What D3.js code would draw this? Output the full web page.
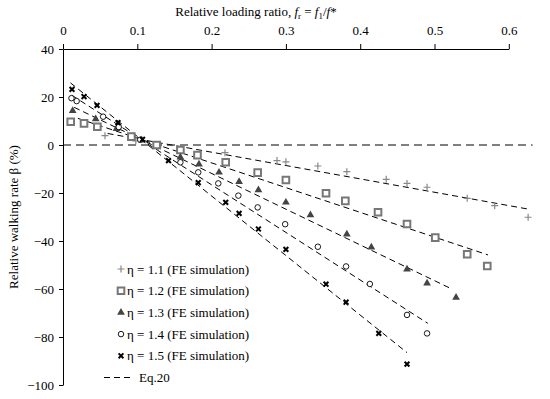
<!DOCTYPE html>
<html>
<head>
<meta charset="utf-8">
<script src="https://cdn.jsdelivr.net/npm/d3@7"></script>
<style>
  body { margin: 0; background: #fff; }
  text { font-family: "Liberation Serif", "Times New Roman", serif; }
</style>
</head>
<body>
<div id="chart"></div>
<script>
// FE simulation points, [fr, beta %]
var eta11 = [[0.0565, 3.9], [0.098, 1.7], [0.128, -0.8], [0.218, -3.2], [0.288, -6.5], [0.300, -7.0],
  [0.343, -8.75], [0.382, -11.1], [0.435, -14.3], [0.463, -16], [0.490, -17.6], [0.544, -22.2],
  [0.581, -25.3], [0.626, -30.1]];
var eta12 = [[0.0104, 9.7], [0.0283, 9.0], [0.0462, 7.6], [0.092, 3.5], [0.126, 0], [0.158, -2.1],
  [0.181, -4.2], [0.219, -7.2], [0.262, -11.5], [0.300, -14.6], [0.354, -20.1], [0.380, -23.3],
  [0.424, -28], [0.463, -32.9], [0.501, -38.6], [0.544, -45.5], [0.571, -50.4]];
var eta13 = [[0.013, 14.3], [0.044, 10.8], [0.072, 6.8], [0.106, 2], [0.158, -5.1], [0.183, -8.0],
  [0.210, -11.4], [0.237, -15.3], [0.263, -18.75], [0.300, -23.9], [0.333, -29.2], [0.382, -37.2],
  [0.415, -42.6], [0.463, -51.8], [0.490, -57.6], [0.529, -63.5]];
var eta14 = [[0.0114, 19.5], [0.0184, 18.3], [0.054, 11.8], [0.075, 7.5], [0.104, 2.2], [0.158, -7.2],
  [0.182, -11.4], [0.209, -16], [0.236, -21.1], [0.262, -26], [0.299, -33], [0.343, -42.4],
  [0.381, -50.6], [0.413, -57.9], [0.463, -70.8], [0.490, -78.5]];
var eta15 = [[0.0121, 23.2], [0.0283, 20.2], [0.0458, 16.5], [0.074, 9.3], [0.107, 2.3], [0.142, -6.5],
  [0.182, -15.7], [0.219, -23.9], [0.237, -28.5], [0.263, -35], [0.300, -43.5], [0.354, -58],
  [0.381, -65.5], [0.425, -78.5], [0.463, -91.3]];

// Eq.20 lines, start and end [fr, beta]
var eq11 = [[0.06, 4.8], [0.626, -26.7]];
var eq12 = [[0.02, 11.1], [0.572, -45.8]];
var eq13 = [[0.015, 15.7], [0.524, -60.1]];
var eq14 = [[0.012, 20.7], [0.491, -74.3]];
var eq15 = [[0.01, 25.9], [0.463, -86.5]];

var xTicks = [0, 0.1, 0.2, 0.3, 0.4, 0.5, 0.6];
var yTicks = [40, 20, 0, -20, -40, -60, -80, -100];
var legendLabels = ["\u03b7 = 1.1 (FE simulation)", "\u03b7 = 1.2 (FE simulation)", "\u03b7 = 1.3 (FE simulation)",
  "\u03b7 = 1.4 (FE simulation)", "\u03b7 = 1.5 (FE simulation)", "Eq.20"];

var width = 550, height = 399;

var svg = d3.select("#chart")
  .append("svg")
  .attr("width", width)
  .attr("height", height);

var x = d3.scaleLinear().domain([0, 0.6]).range([63, 508.8]);
var y = d3.scaleLinear().domain([-100, 40]).range([385, 49]);

// axes
var xAxis = svg.append("g")
  .attr("transform", "translate(0," + y(40) + ")")
  .call(d3.axisTop(x).tickValues(xTicks).tickSize(5).tickSizeOuter(0)
    .tickFormat(function(d) { return d === 0 ? "0" : d.toFixed(1); }));
var yAxis = svg.append("g")
  .attr("transform", "translate(" + x(0) + ",0)")
  .call(d3.axisLeft(y).tickValues(yTicks).tickSize(4).tickSizeOuter(0));

[xAxis, yAxis].forEach(function(a) {
  a.selectAll("path, line").attr("stroke", "#000").attr("stroke-width", 1);
  a.selectAll("text").attr("font-size", 13).attr("fill", "#000")
    .attr("font-family", "Liberation Serif");
});
xAxis.selectAll("text").attr("dy", "-0.45em");
yAxis.selectAll("text").attr("dx", "-2");

// zero line
svg.append("line")
  .attr("x1", x(0)).attr("x2", x(0.632))
  .attr("y1", y(0)).attr("y2", y(0))
  .attr("stroke", "#000").attr("stroke-width", 1)
  .attr("stroke-dasharray", "8,5");

// titles
var title = svg.append("text")
  .attr("x", 256).attr("y", 16)
  .attr("text-anchor", "middle")
  .attr("font-size", 13);
title.append("tspan").text("Relative  loading ratio, ");
title.append("tspan").attr("font-style", "italic").text("f");
title.append("tspan").attr("font-size", 9).attr("dy", 3).text("r");
title.append("tspan").attr("dy", -3).text(" = ");
title.append("tspan").attr("font-style", "italic").text("f");
title.append("tspan").attr("font-size", 9).attr("dy", 3).text("1");
title.append("tspan").attr("dy", -3).text("/");
title.append("tspan").attr("font-style", "italic").text("f");
title.append("tspan").text("*");

svg.append("text")
  .attr("transform", "translate(18,217) rotate(-90)")
  .attr("text-anchor", "middle")
  .attr("font-size", 13)
  .text("Relative walking rate \u03b2 (%)");

// Eq.20 lines
var line = d3.line()
  .x(function(d) { return x(d[0]); })
  .y(function(d) { return y(d[1]); });

svg.append("g").selectAll("path")
  .data([eq11, eq12, eq13, eq14, eq15])
  .enter().append("path")
  .attr("d", line)
  .attr("fill", "none")
  .attr("stroke", "#000")
  .attr("stroke-width", 1)
  .attr("stroke-dasharray", "6,4");

// markers
var styles = [
  {draw: "plus"},
  {type: d3.symbolSquare, size: 44, fill: "#fff", stroke: "#777", sw: 2},
  {type: d3.symbolTriangle, size: 26, fill: "#444", stroke: "none", sw: 0},
  {type: d3.symbolCircle, size: 24, fill: "#fff", stroke: "#000", sw: 0.9},
  {draw: "x"}
];

function drawMarker(g, s) {
  if (s.draw === "plus") {
    g.append("path").attr("d", "M-3.5,0H3.5M0,-3.5V3.5")
      .attr("stroke", "#888").attr("stroke-width", 1.2).attr("fill", "none");
  } else if (s.draw === "x") {
    g.append("path").attr("d", "M-2.4,-2.4L2.4,2.4M-2.4,2.4L2.4,-2.4")
      .attr("stroke", "#000").attr("stroke-width", 2).attr("fill", "none");
  } else {
    g.append("path").attr("d", d3.symbol().type(s.type).size(s.size)())
      .attr("fill", s.fill).attr("stroke", s.stroke).attr("stroke-width", s.sw);
  }
}

[eta11, eta12, eta13, eta14, eta15].forEach(function(series, i) {
  var g = svg.append("g");
  series.forEach(function(d) {
    var m = g.append("g").attr("transform", "translate(" + x(d[0]) + "," + y(d[1]) + ")");
    drawMarker(m, styles[i]);
  });
});

// legend
var legend = svg.append("g");
legendLabels.forEach(function(lbl, i) {
  var yy = 269 + i * 21.7;
  if (i < 5) {
    var m = legend.append("g").attr("transform", "translate(121," + yy + ")");
    drawMarker(m, styles[i]);
  } else {
    legend.append("line")
      .attr("x1", 104).attr("x2", 133).attr("y1", yy).attr("y2", yy)
      .attr("stroke", "#000").attr("stroke-dasharray", "6,4");
  }
  legend.append("text")
    .attr("x", i < 5 ? 127 : 139).attr("y", yy + 4.5)
    .attr("font-size", 13)
    .text(lbl);
});
</script>
</body>
</html>
